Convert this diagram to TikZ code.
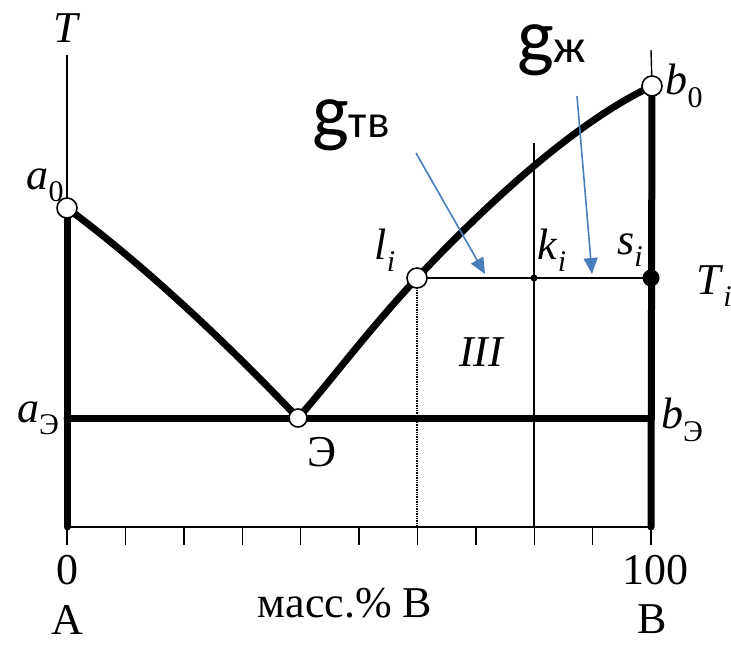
\documentclass[tikz,border=0pt]{standalone}
\usepackage{fontspec}
\setmainfont{Liberation Serif}
\newfontfamily\gfont{Carlito}
\usetikzlibrary{arrows.meta, backgrounds}
\definecolor{arrowblue}{HTML}{4A7EBB}

\newcommand{\lab}[2]{\textit{#1}\raisebox{-0.28em}{\fontsize{30}{30}\selectfont #2}}

\begin{document}
\begin{tikzpicture}[x=1pt, y=-1pt,
  thickline/.style={line width=7pt, line cap=round, line join=round},
  thinline/.style={line width=1.4pt},
  opendot/.style={circle, draw, fill=white, line width=1.6pt, minimum size=20pt, inner sep=0pt},
  lbl/.style={font=\fontsize{44}{44}\selectfont},
  glbl/.style={font=\gfont\fontsize{78}{78}\selectfont, inner sep=0pt, anchor=base west},
  pointer/.style={-{Triangle[length=16pt, width=14pt]}, line width=1.6pt, arrowblue},
]
  \useasboundingbox (0,0) rectangle (731,645);

  % Points
  \node[opendot] (a0) at (67,208) {};
  \node[opendot] (b0) at (652,86) {};
  \node[opendot] (li) at (417,278) {};
  \node[opendot, minimum size=18pt] (e) at (298,418) {};
  \node[circle, fill=black, minimum size=17pt, inner sep=0pt] (si) at (651,278) {};
  \node[circle, fill=black, minimum size=7pt, inner sep=0pt] (ki) at (534,278) {};

  \coordinate (top0) at (67,55);
  \coordinate (bot0) at (67,527);
  \coordinate (top100) at (651,50);
  \coordinate (bot100) at (651,527);
  \coordinate (ae) at (67,418);
  \coordinate (be) at (651,418);
  \coordinate (ktop) at (534,143);
  \coordinate (kbot) at (534,527);
  \coordinate (lbot) at (417,527);

  \begin{scope}[on background layer]
    % Thin lines
    \draw[thinline] (top0) -- (a0.center);
    \draw[thinline] (top100) -- (b0.center);
    \draw[thinline] (bot0) -- (bot100);
    \draw[thinline] (li.center) -- (si.center);
    \draw[thinline, densely dotted] (li.center) -- (lbot);
    \draw[thinline] (ktop) -- (kbot);
    \foreach \i in {0,...,10}
      \draw[thinline] (67+58.4*\i,527) -- ++(0,18);

    % Thick lines
    \draw[thickline] (a0.center) -- (bot0);
    \draw[thickline] (b0.center) -- (bot100);
    \draw[thickline] (ae) -- (be);

    % Liquidus
    \draw[thickline] (a0.center) .. controls (140,262) and (222,338) .. (e.center);
    \draw[thickline] (e.center) .. controls (330,382) and (365,334) .. (li.center)
      .. controls (495,195) and (580,120) .. (b0.center);
  \end{scope}

  % Labels
  \node[lbl] (T) at (67,28) {\textit{T}};
  \node[lbl] (a0l) at (45,185) {\lab{a}{0}};
  \node[lbl] (b0l) at (684,86) {\lab{b}{0}};
  \node[lbl] (lil) at (385,250) {\lab{l}{\textit{i}}};
  \node[lbl] (kil) at (552,250) {\lab{k}{\textit{i}}};
  \node[lbl] (sil) at (630,250) {\lab{s}{\textit{i}}};
  \node[lbl] (Til) at (714,286) {\lab{T}{\textit{i}}};
  \node[lbl] (ael) at (38,418) {\lab{a}{Э}};
  \node[lbl] (bel) at (682,420) {\lab{b}{Э}};
  \node[lbl] (el) at (322,452) {Э};
  \node[lbl] (III) at (482,352) {\textit{III}};
  \node[lbl] (zero) at (67,570) {0};
  \node[lbl] (hund) at (655,570) {100};
  \node[lbl] (xlab) at (345,603) {масс.\% В};
  \node[lbl, inner sep=0pt, anchor=base] (A) at (67,634) {А};
  \node[lbl, inner sep=0pt, anchor=base] (B) at (652,633) {В};

  % Phase fractions
  \node[glbl] (gtv) at (312,137) {g\fontsize{47}{47}\selectfont тв};
  \node[glbl] (gzh) at (517,62) {g\fontsize{47}{47}\selectfont ж};
  \coordinate (gtvtail) at (416,153);
  \coordinate (gtvhead) at (485,274);
  \coordinate (gzhtail) at (577,96);
  \coordinate (gzhhead) at (592,274);
  \draw[pointer] (gtvtail) -- (gtvhead);
  \draw[pointer] (gzhtail) -- (gzhhead);

\end{tikzpicture}
\end{document}
